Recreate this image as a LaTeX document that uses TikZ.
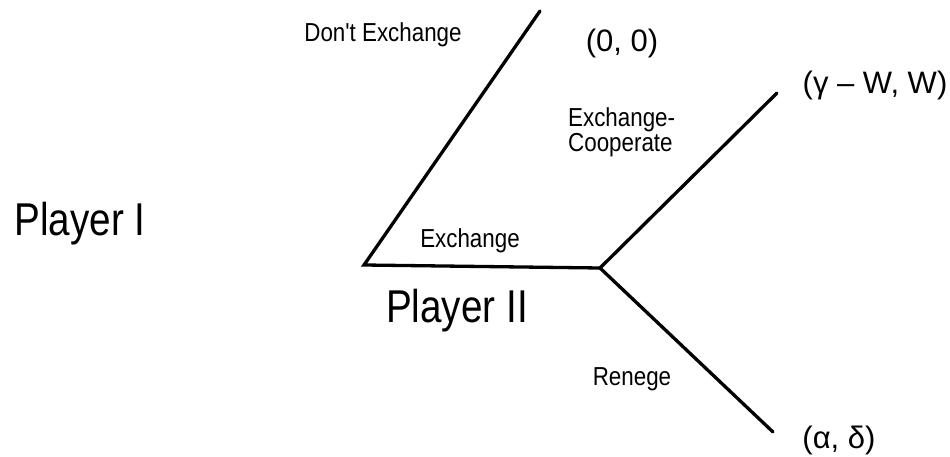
\documentclass[tikz,border=0pt]{standalone}
\usepackage{fontspec}
\setmainfont{Liberation Sans}
\newfontfamily\bigf[FakeStretch=0.84]{Liberation Sans}
\newfontfamily\smallf[FakeStretch=0.86]{Liberation Sans}
\begin{document}
\begin{tikzpicture}[x=1pt,y=-1pt,
  branch/.style={line width=3.3pt,line cap=round,line join=miter},
  lbl/.style={inner sep=0pt,anchor=base,font=\smallf\fontsize{26}{27}\selectfont},
  player/.style={inner sep=0pt,anchor=base,font=\bigf\fontsize{46}{48}\selectfont},
  payoff/.style={inner sep=0pt,anchor=base,font=\fontsize{31}{33}\selectfont}]
\useasboundingbox (0,0) rectangle (950,457);
% tree points
\coordinate (root) at (364,265);
\coordinate (dont) at (540,11);
\coordinate (mid) at (600,268);
\coordinate (coop) at (777,93);
\coordinate (ren) at (773,432);
% branches
\draw[branch] (dont) -- (root) -- (mid);
\draw[branch] (coop) -- (mid) -- (ren);
% labels
\node[player] (p1) at (80,236) {Player I};
\node[player] (p2) at (457,322) {Player II};
\node[lbl] (ldont) at (383,42) {Don't Exchange};
\node[lbl] (lex) at (470,247) {Exchange};
\node[lbl,anchor=base west] (lec1) at (568,127) {Exchange-};
\node[lbl,anchor=base west] (lec2) at (568,152) {Cooperate};
\node[lbl] (lren) at (632,385) {Renege};
% payoffs
\node[payoff] (pay0) at (622,52) {(0, 0)};
\node[payoff] (payc) at (875,94) {(γ – W, W)};
\node[payoff] (payr) at (839,448) {(α, δ)};
\end{tikzpicture}
\end{document}
